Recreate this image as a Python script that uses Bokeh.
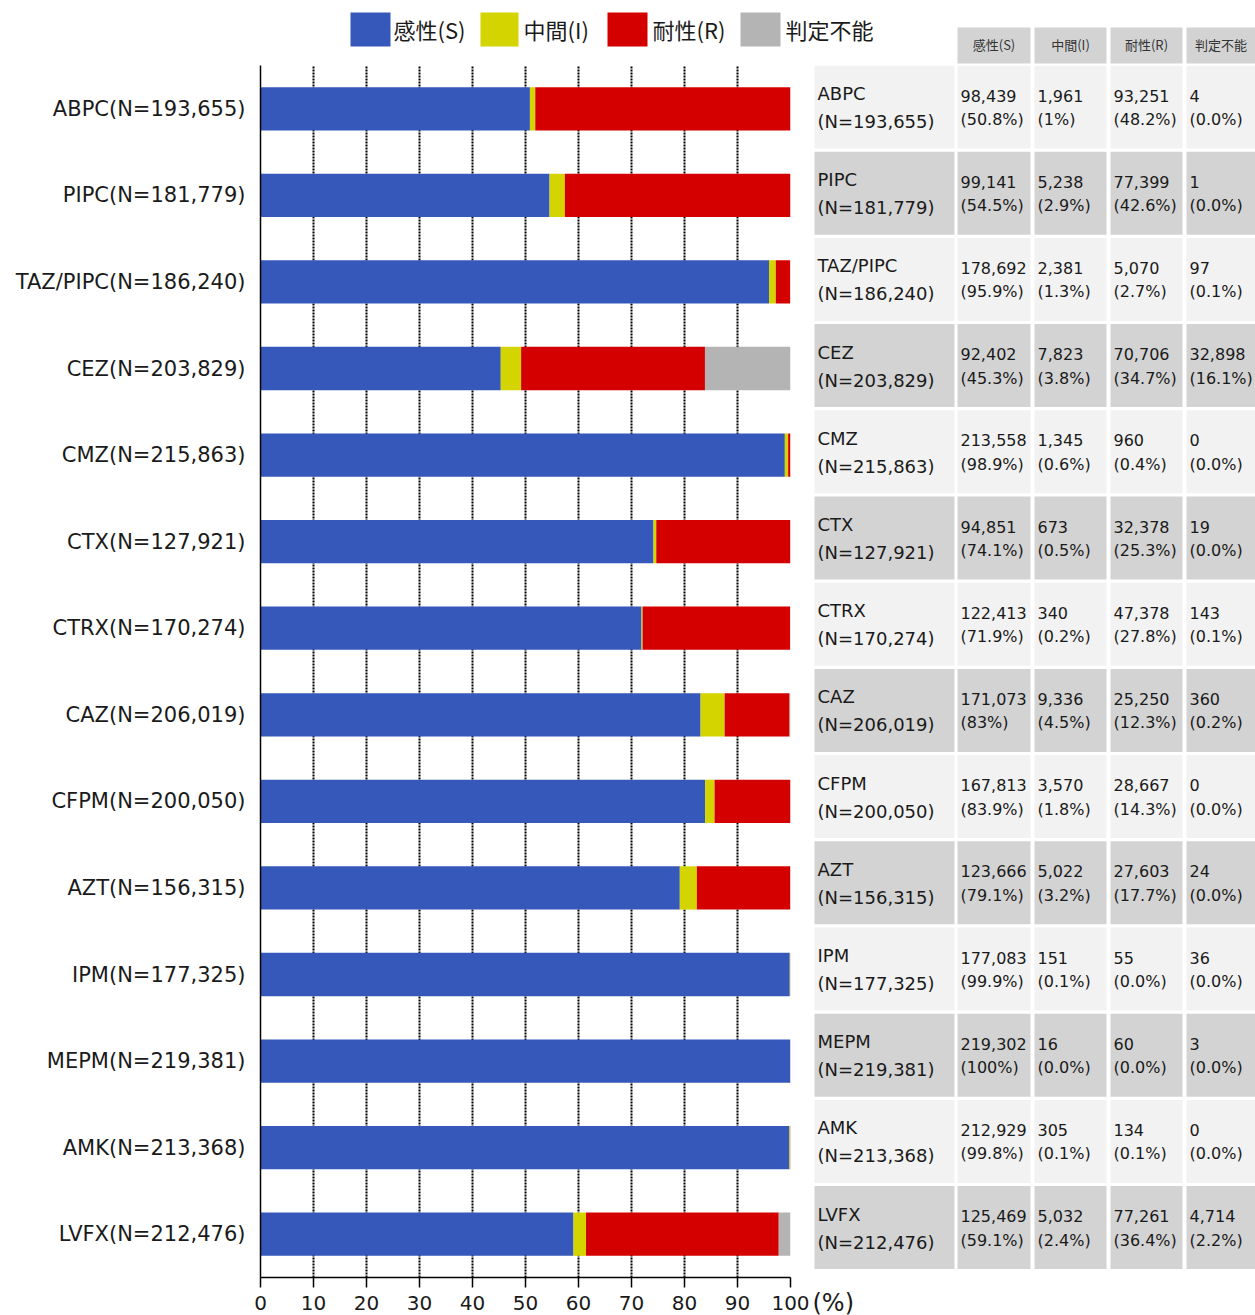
from bokeh.plotting import figure
from bokeh.models import Range1d, FactorRange, FixedTicker, ColumnDataSource
from bokeh.layouts import column, row
from bokeh.core.properties import value
from bokeh.embed import file_html
from bokeh.resources import INLINE

# ---------------- data ----------------
drugs = ["ABPC", "PIPC", "TAZ/PIPC", "CEZ", "CMZ", "CTX", "CTRX", "CAZ",
         "CFPM", "AZT", "IPM", "MEPM", "AMK", "LVFX"]
n_total = [193655, 181779, 186240, 203829, 215863, 127921, 170274, 206019,
           200050, 156315, 177325, 219381, 213368, 212476]
s_counts = [98439, 99141, 178692, 92402, 213558, 94851, 122413, 171073,
            167813, 123666, 177083, 219302, 212929, 125469]
i_counts = [1961, 5238, 2381, 7823, 1345, 673, 340, 9336,
            3570, 5022, 151, 16, 305, 5032]
r_counts = [93251, 77399, 5070, 70706, 960, 32378, 47378, 25250,
            28667, 27603, 55, 60, 134, 77261]
u_counts = [4, 1, 97, 32898, 0, 19, 143, 360,
            0, 24, 36, 3, 0, 4714]
s_pct = ["50.8%", "54.5%", "95.9%", "45.3%", "98.9%", "74.1%", "71.9%", "83%",
         "83.9%", "79.1%", "99.9%", "100%", "99.8%", "59.1%"]
i_pct = ["1%", "2.9%", "1.3%", "3.8%", "0.6%", "0.5%", "0.2%", "4.5%",
         "1.8%", "3.2%", "0.1%", "0.0%", "0.1%", "2.4%"]
r_pct = ["48.2%", "42.6%", "2.7%", "34.7%", "0.4%", "25.3%", "27.8%", "12.3%",
         "14.3%", "17.7%", "0.0%", "0.0%", "0.1%", "36.4%"]
u_pct = ["0.0%", "0.0%", "0.1%", "16.1%", "0.0%", "0.0%", "0.1%", "0.2%",
         "0.0%", "0.0%", "0.0%", "0.0%", "0.0%", "2.2%"]
categories = ["感性(S)", "中間(I)", "耐性(R)", "判定不能"]
x_ticks = [0, 10, 20, 30, 40, 50, 60, 70, 80, 90, 100]

colors = ["#3558BA", "#D4D400", "#D40000", "#B4B4B4"]
LATIN = "DejaVu Sans"
CJK = "Noto Sans CJK JP"
TXT = "#1a1a1a"

# ---------------- bar chart ----------------
labels = [f"{d}(N={n:,})" for d, n in zip(drugs, n_total)]
src = ColumnDataSource(dict(
    label=labels,
    S=[c / n * 100 for c, n in zip(s_counts, n_total)],
    I=[c / n * 100 for c, n in zip(i_counts, n_total)],
    R=[c / n * 100 for c, n in zip(r_counts, n_total)],
    U=[c / n * 100 for c, n in zip(u_counts, n_total)],
))

p = figure(width=810, height=1250, output_backend="svg", toolbar_location=None,
           x_range=Range1d(0, 100), y_range=FactorRange(factors=labels[::-1]),
           min_border_left=260, min_border_right=20, min_border_top=0,
           min_border_bottom=38)
p.frame_align = False
p.outline_line_color = None
p.hbar_stack(["S", "I", "R", "U"], y="label", height=0.5, source=src,
             fill_color=colors, line_color=None)

p.xgrid.ticker = FixedTicker(ticks=x_ticks[1:])
p.xgrid.grid_line_color = "black"
p.xgrid.grid_line_dash = "2 1"
p.xgrid.grid_line_width = 2
p.ygrid.visible = False

p.xaxis.ticker = FixedTicker(ticks=x_ticks)
p.xaxis.major_tick_in = 0
p.xaxis.major_tick_out = 10
p.xaxis.minor_tick_line_color = None
p.xaxis.axis_line_color = "black"
p.xaxis.axis_line_width = 1.5
p.xaxis.major_tick_line_width = 1.5
p.xaxis.major_label_standoff = 8
p.xaxis.major_label_text_font = LATIN
p.xaxis.major_label_text_font_size = "20px"
p.xaxis.major_label_text_color = TXT

p.yaxis.major_tick_line_color = None
p.yaxis.minor_tick_line_color = None
p.yaxis.axis_line_color = "black"
p.yaxis.axis_line_width = 1.5
p.yaxis.major_label_standoff = 9
p.yaxis.major_label_text_font = LATIN
p.yaxis.major_label_text_font_size = "21px"
p.yaxis.major_label_text_color = TXT

# ---------------- table ----------------
t = figure(width=445, height=1250, output_backend="svg", toolbar_location=None,
           x_range=Range1d(810, 1255), y_range=Range1d(1315, 65),
           x_axis_type=None, y_axis_type=None, min_border=0)
t.frame_align = False
t.outline_line_color = None
t.grid.visible = False

col_edges = [(814, 954), (957, 1030), (1034, 1106), (1110, 1182), (1186, 1255)]
ROW = 86.2
ROW_H = 83
n = len(drugs)
tops = [65 + i * ROW for i in range(n)]
fills = ["#F2F2F2" if i % 2 == 0 else "#D3D3D3" for i in range(n)]

for (l, r) in col_edges:
    t.quad(left=l, right=r, top=tops, bottom=[y + ROW_H for y in tops],
           fill_color=fills, line_color=None)

t.text(x=[col_edges[0][0] + 3] * n, y=[y + 28 for y in tops], text=drugs,
       text_font=value(LATIN), text_font_size="18px", text_color=TXT,
       text_baseline="middle", text_align="left")
t.text(x=[col_edges[0][0] + 3] * n, y=[y + 56 for y in tops],
       text=[f"(N={v:,})" for v in n_total],
       text_font=value(LATIN), text_font_size="18px", text_color=TXT,
       text_baseline="middle", text_align="left")

for (l, r), cnts, pcts in zip(col_edges[1:], [s_counts, i_counts, r_counts, u_counts],
                              [s_pct, i_pct, r_pct, u_pct]):
    t.text(x=[l + 3] * n, y=[y + 30 for y in tops], text=[f"{c:,}" for c in cnts],
           text_font=value(LATIN), text_font_size="16px", text_color=TXT,
           text_baseline="middle", text_align="left")
    t.text(x=[l + 3] * n, y=[y + 54 for y in tops], text=[f"({q})" for q in pcts],
           text_font=value(LATIN), text_font_size="16px", text_color=TXT,
           text_baseline="middle", text_align="left")

t.text(x=[812], y=[1302], text=["(%)"], text_font=value(LATIN),
       text_font_size="24px", text_color=TXT, text_baseline="middle",
       text_align="left")

# ---------------- header: legend + table column titles ----------------
h = figure(width=1255, height=65, output_backend="svg", toolbar_location=None,
           x_range=Range1d(0, 1255), y_range=Range1d(65, 0),
           x_axis_type=None, y_axis_type=None, min_border=0)
h.frame_align = False
h.outline_line_color = None
h.grid.visible = False

leg_left = [350, 480, 607, 740]
leg_w = [40, 38, 40, 40]
h.quad(left=leg_left, right=[a + w for a, w in zip(leg_left, leg_w)],
       top=12, bottom=46, fill_color=colors, line_color=None)
h.text(x=[393, 523, 652, 785], y=[28] * 4, text=categories,
       text_font=value(CJK), text_font_size="22px", text_color=TXT,
       text_baseline="middle", text_align="left")

h.quad(left=[c[0] for c in col_edges[1:]], right=[c[1] for c in col_edges[1:]],
       top=27, bottom=63, fill_color="#D3D3D3", line_color=None)
h.text(x=[(c[0] + c[1]) / 2 for c in col_edges[1:]], y=[44] * 4, text=categories,
       text_font=value(CJK), text_font_size="13px", text_color="#333333",
       text_baseline="middle", text_align="center")

layout = column(h, row(p, t))
open("out.html", "w").write(file_html(layout, INLINE))
